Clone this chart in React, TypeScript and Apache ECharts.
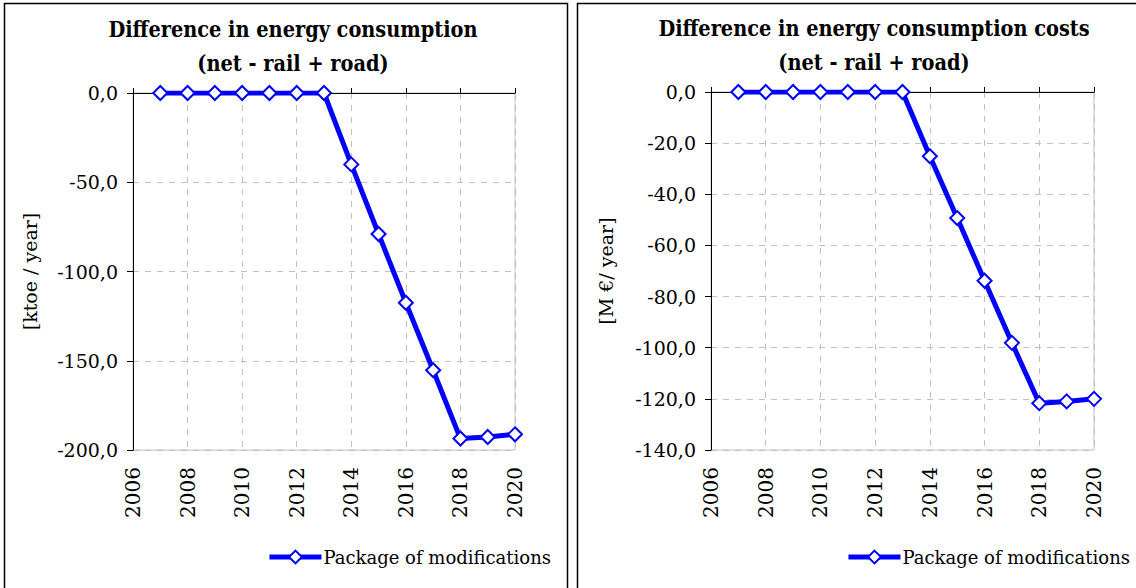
import React, { useEffect, useRef } from "react";
import * as echarts from "echarts";

const years = [2007, 2008, 2009, 2010, 2011, 2012, 2013, 2014, 2015, 2016, 2017, 2018, 2019, 2020];
const energyValues = [0, 0, 0, 0, 0, 0, 0, -40, -79, -117.5, -155.3, -193.6, -192.7, -191.2];
const costValues = [0, 0, 0, 0, 0, 0, 0, -25.1, -49.3, -73.8, -98.1, -121.7, -121.0, -120.0];
const seriesName = "Package of modifications";
const leftTitle = "Difference in energy consumption\n(net - rail + road)";
const rightTitle = "Difference in energy consumption costs\n(net - rail + road)";
const leftYName = "[ktoe / year]";
const rightYName = "[M €/ year]";

const FONT = "DejaVu Serif";
const TITLE_FONT = "'DejaVu Serif Condensed', 'DejaVu Serif'";
const fmt = (v: number) => v.toFixed(1).replace(".", ",");

export default function App() {
  const ref = useRef<HTMLDivElement>(null);
  useEffect(() => {
    document.body.style.margin = "0";
    const chart = echarts.init(ref.current!, null, { renderer: "svg" });
    const grids = [
      { left: 133, top: 93, width: 382, height: 357 },
      { left: 711, top: 92, width: 383, height: 358 },
    ];
    const xBottom = (gi: number) => ({
      type: "value",
      gridIndex: gi,
      position: "bottom",
      min: 2006,
      max: 2020,
      interval: 2,
      axisLine: { show: false, onZero: false },
      axisTick: { show: false },
      axisLabel: {
        rotate: 90,
        margin: 17,
        color: "#000",
        fontFamily: FONT,
        fontSize: 20,
        formatter: (v: number) => String(v),
      },
      splitLine: { show: true, lineStyle: { color: "#c0c0c0", type: [6, 6], width: 1 } },
    });
    const xTop = (gi: number) => ({
      type: "value",
      gridIndex: gi,
      position: "top",
      min: 2006,
      max: 2020,
      interval: 2,
      axisLine: { show: true, onZero: false, lineStyle: { color: "#000", width: 1 } },
      axisTick: { show: true, inside: false, length: 5, lineStyle: { color: "#000" } },
      axisLabel: { show: false },
      splitLine: { show: false },
    });
    const yAxis = (gi: number, min: number, interval: number, name: string, gap: number) => ({
      type: "value",
      gridIndex: gi,
      min,
      max: 0,
      interval,
      name,
      nameLocation: "middle",
      nameGap: gap,
      nameRotate: 90,
      nameTextStyle: { color: "#000", fontFamily: FONT, fontSize: 19 },
      axisLine: { show: true, onZero: false, lineStyle: { color: "#000", width: 1 } },
      axisTick: { show: true, length: 6, lineStyle: { color: "#000" } },
      axisLabel: { color: "#000", fontFamily: FONT, fontSize: 19, margin: 15, formatter: fmt },
      splitLine: { show: true, lineStyle: { color: "#c0c0c0", type: [6, 6], width: 1 } },
    });
    const lineSeries = (gi: number, vals: number[]) => ({
      type: "line",
      name: seriesName,
      xAxisIndex: gi * 2,
      yAxisIndex: gi,
      data: years.map((y, i) => [y, vals[i]]),
      symbol: "diamond",
      symbolSize: 14,
      lineStyle: { color: "#0000ff", width: 5 },
      itemStyle: { color: "#ffffff", borderColor: "#0000ff", borderWidth: 2 },
      z: 5,
    });
    const legendCommon = {
      data: [seriesName],
      top: 543,
      itemWidth: 52,
      itemHeight: 16,
      itemGap: 2,
      selectedMode: false,
      lineStyle: { width: 5, color: "#0000ff" },
      textStyle: { fontFamily: FONT, fontSize: 18, color: "#000", padding: [0, 0, 0, -3] },
    };
    chart.setOption({
      animation: false,
      backgroundColor: "#ffffff",
      title: [
        {
          text: leftTitle,
          left: 288,
          top: 7,
          textAlign: "center",
          textStyle: { fontFamily: TITLE_FONT, fontWeight: "bold", fontSize: 21.5, lineHeight: 34, color: "#000" },
        },
        {
          text: rightTitle,
          left: 869,
          top: 6,
          textAlign: "center",
          textStyle: { fontFamily: TITLE_FONT, fontWeight: "bold", fontSize: 21.5, lineHeight: 34, color: "#000" },
        },
      ],
      grid: grids.map((g) => ({ ...g, show: true, borderColor: "#c0c0c0", borderWidth: 1, backgroundColor: "transparent" })),
      xAxis: [xBottom(0), xTop(0), xBottom(1), xTop(1)],
      yAxis: [yAxis(0, -200, 50, leftYName, 94), yAxis(1, -140, 20, rightYName, 96)],
      legend: [
        { ...legendCommon, right: 580 },
        { ...legendCommon, right: 1 },
      ],
      graphic: [
        {
          type: "rect",
          shape: { x: 4.5, y: 3.5, width: 563, height: 620 },
          style: { fill: "none", stroke: "#000", lineWidth: 1.5 },
          silent: true,
        },
        {
          type: "rect",
          shape: { x: 577.5, y: 3.5, width: 620, height: 620 },
          style: { fill: "none", stroke: "#000", lineWidth: 1.5 },
          silent: true,
        },
      ],
      series: [lineSeries(0, energyValues), lineSeries(1, costValues)],
    });
    return () => chart.dispose();
  }, []);
  return <div ref={ref} style={{ width: 1136, height: 588 }} />;
}
